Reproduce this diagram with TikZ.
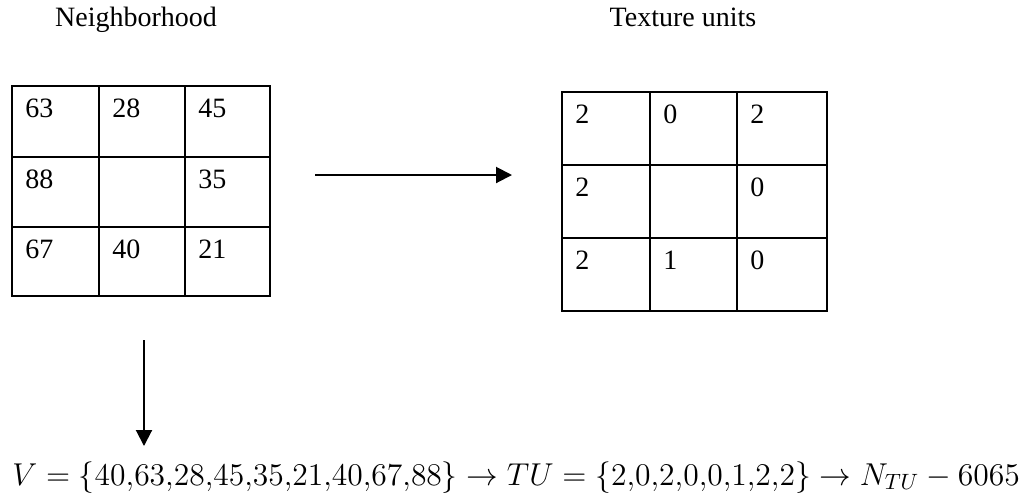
\RequirePackage{fix-cm}
\documentclass[tikz,border=0pt]{standalone}
\usepackage{fontspec}
\setmainfont{Liberation Serif}
\usetikzlibrary{arrows.meta}
\tikzset{
  cell/.style={anchor=base west,inner sep=0pt,font=\fontsize{14}{17}\selectfont},
  heading/.style={anchor=base,inner sep=0pt,font=\fontsize{14}{17}\selectfont},
  link/.style={line width=1pt,-{Triangle[length=8pt,width=8pt]}}
}
\begin{document}
\begin{tikzpicture}[x=0.5pt,y=-0.5pt]
  \useasboundingbox (0,0) rectangle (1020,500);
  % headings
  \draw
    (136,26) node[heading] (nbtitle){Neighborhood}
    (683,26) node[heading] (tutitle){Texture units};
  % neighborhood grid
  \draw[line width=1pt] (12,86) rectangle (270,296)
    (99,86) -- (99,296) (185,86) -- (185,296)
    (12,157) -- (270,157) (12,227) -- (270,227);
  \draw
    (25,117) node[cell] (n1){63}
    (112,117) node[cell] (n2){28}
    (198,117) node[cell] (n3){45}
    (25,188) node[cell] (n8){88}
    (198,188) node[cell] (n4){35}
    (25,258) node[cell] (n7){67}
    (112,258) node[cell] (n6){40}
    (198,258) node[cell] (n5){21};
  % texture unit grid
  \draw[line width=1pt] (562,92) rectangle (827,311)
    (650,92) -- (650,311) (737,92) -- (737,311)
    (562,165) -- (827,165) (562,238) -- (827,238);
  \draw
    (575,123) node[cell] (t1){2}
    (663,123) node[cell] (t2){0}
    (750,123) node[cell] (t3){2}
    (575,196) node[cell] (t8){2}
    (750,196) node[cell] (t4){0}
    (575,269) node[cell] (t7){2}
    (663,269) node[cell] (t6){1}
    (750,269) node[cell] (t5){0};
  % arrows
  \coordinate (hstart) at (315,175);
  \coordinate (hend) at (512,175);
  \coordinate (vstart) at (144,340);
  \coordinate (vend) at (144,446);
  \draw[link] (hstart) -- (hend);
  \draw[link] (vstart) -- (vend);
  % result
  \node[anchor=base west,inner sep=0pt,font=\fontsize{15.8}{19}\selectfont] (result) at (12,485)
    {$V=\{40{,}63{,}28{,}45{,}35{,}21{,}40{,}67{,}88\}\rightarrow TU=\{2{,}0{,}2{,}0{,}0{,}1{,}2{,}2\}\rightarrow N_{TU}-6065$};
\end{tikzpicture}
\end{document}
